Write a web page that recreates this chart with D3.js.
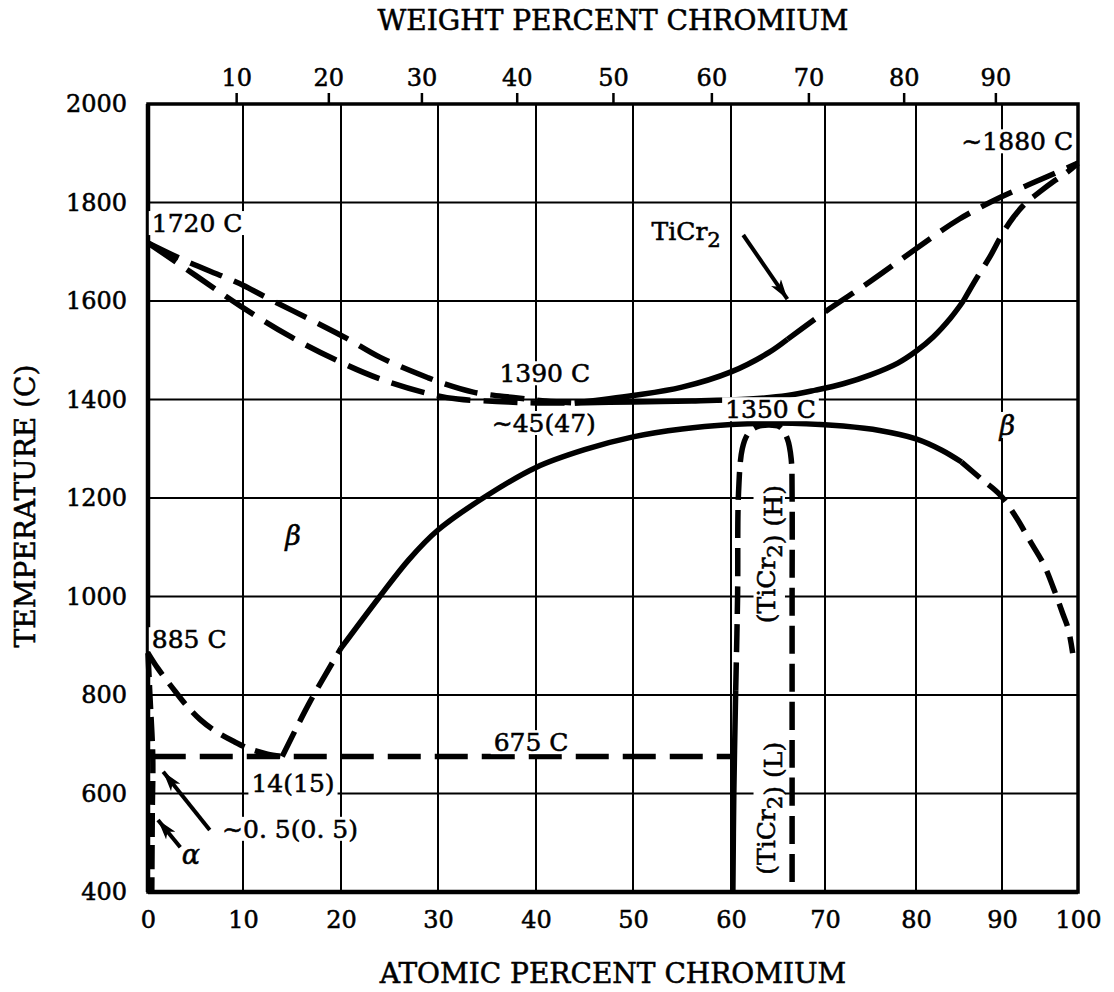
<!DOCTYPE html>
<html>
<head>
<meta charset="utf-8">
<script src="https://cdn.jsdelivr.net/npm/d3@7"></script>
<style>
  body { margin: 0; background: #fff; }
  svg text { font-family: "DejaVu Serif", serif; fill: #000; stroke: #000; stroke-width: 0.55px; }
</style>
</head>
<body>
<div id="chart"></div>
<script>
// axis ticks
const atomicTicks = [0, 10, 20, 30, 40, 50, 60, 70, 80, 90, 100];
const weightTicks = [10, 20, 30, 40, 50, 60, 70, 80, 90];
const tempTicks = [400, 600, 800, 1000, 1200, 1400, 1600, 1800, 2000];

// atomic masses for wt% -> at% conversion of the top axis
const massTi = 47.87;
const massCr = 52.00;

// phase boundaries, [atomic % Cr, temperature C]
const liquidusLeft = [[0, 1718], [4, 1681], [8, 1649], [10, 1632], [12.5, 1606], [17, 1561], [20.6, 1524],
  [24, 1486], [29, 1444], [30.5, 1433], [33.6, 1415], [37.7, 1404], [41, 1397], [44, 1393]];
const solidusLeft = [[0, 1718], [5, 1652], [9.7, 1590], [14.9, 1527], [19.5, 1480], [24, 1442],
  [29, 1412], [32, 1401], [36, 1396], [40, 1393], [44, 1393]];
const liquidusRightSolid = [[44, 1393], [50, 1408], [55, 1425], [60, 1456], [64, 1495], [66, 1522]];
const liquidusRightDash = [[66, 1522], [70, 1578], [75, 1640], [80, 1706], [85, 1766], [90, 1812],
  [95, 1846], [100, 1880]];
const solidusRightSolid = [[44, 1393], [50, 1395], [56, 1397], [62, 1401], [66, 1408], [69, 1419],
  [72, 1432], [75, 1450], [78, 1474], [80, 1498], [82, 1527], [84, 1565], [85.5, 1600]];
const solidusRightDash = [[85.5, 1600], [87, 1645], [88.6, 1690], [90, 1735], [91.5, 1770], [93, 1797],
  [95, 1822], [97, 1845], [98.6, 1862], [100, 1880]];
const betaTransus = [[0, 885], [1, 855], [2.6, 814], [4, 780], [5.5, 750], [7, 728], [9, 706],
  [10.5, 692], [12.5, 680], [14, 675]];
const betaSolvusDashLow = [[14, 675], [16.8, 785], [20, 895]];
const betaSolvusSolid = [[20, 895], [24, 1000], [27, 1075], [30, 1135], [35, 1205], [40, 1262],
  [45, 1298], [50, 1324], [55, 1340], [60, 1349], [64, 1352], [68, 1351], [72, 1346], [76, 1337],
  [80, 1320], [83, 1297], [85.3, 1273]];
const betaSolvusDashHigh = [[85.3, 1273], [87.5, 1240], [89.8, 1206], [91.9, 1160], [93.6, 1115],
  [95.5, 1065], [96.7, 1020], [98, 965], [98.7, 935], [99.3, 885]];
const ticr2Solid = [[60.2, 400], [60.3, 600], [60.5, 810]];
const ticr2Dash = [[60.5, 810], [60.7, 1000], [60.8, 1210], [61.2, 1300], [61.8, 1330], [62.7, 1344],
  [64, 1348], [65.2, 1344], [66.0, 1320], [66.4, 1280], [66.5, 1200], [66.5, 1000], [66.5, 700], [66.5, 400]];
const alphaBoundary = [[0, 885], [0.2, 800], [0.5, 675], [0.45, 560], [0.4, 400]];
const eutectoid = [[0.5, 675], [60.5, 675]];

// text labels: [text, at%, temp, anchor, rotated]
const labels = [
  ["1720 C", 0.4, 1740, "start", false],
  ["1390 C", 40.9, 1435, "middle", false],
  ["\u223C45(47)", 40.8, 1334, "middle", false],
  ["1350 C", 64.2, 1362, "middle", false],
  ["\u223C1880 C", 92.0, 1906, "middle", false],
  ["TiCr_2", 51.9, 1724, "start", false],
  ["\u03B2", 15.1, 1104, "middle", false],
  ["\u03B2", 90.7, 1328, "middle", false],
  ["885 C", 0.4, 895, "start", false],
  ["675 C", 39.5, 686, "middle", false],
  ["14(15)", 15.1, 603, "middle", false],
  ["\u223C0. 5(0. 5)", 14.8, 510, "middle", false],
  ["\u03B1", 4.5, 457, "middle", false],
  ["(TiCr_2) (H)", 63.7, 1086, "middle", true],
  ["(TiCr_2) (L)", 63.7, 570, "middle", true]
];

// arrows: [from at%, from temp, to at%, to temp]
const arrows = [
  [61.3, 1734, 66.0, 1604],
  [6.5, 526, 1.6, 644],
  [3.4, 491, 1.05, 546]
];

const W = 1114, H = 992;
const plotTop = 104, plotBottom = 892;
// measured grid positions of the atomic % lines (the original drawing is not quite even)
const gridX = [148, 243, 341, 438, 536, 633, 731, 825, 916, 1002, 1078];

const x = d3.scaleLinear().domain(atomicTicks).range(gridX);
const y = d3.scaleLinear().domain([400, 2000]).range([plotBottom, plotTop]);

function wtToAt(w) {
  const a = (w / massCr) / (w / massCr + (100 - w) / massTi);
  return a * 100;
}

const svg = d3.select("#chart").append("svg")
  .attr("width", W)
  .attr("height", H);

// grid
const grid = svg.append("g").attr("stroke", "#000").attr("stroke-width", 2);
grid.selectAll("line.v").data(atomicTicks).join("line")
  .attr("class", "v")
  .attr("x1", d => x(d)).attr("x2", d => x(d))
  .attr("y1", y(2000)).attr("y2", y(400));
grid.selectAll("line.h").data(tempTicks).join("line")
  .attr("class", "h")
  .attr("x1", x(0)).attr("x2", x(100))
  .attr("y1", d => y(d)).attr("y2", d => y(d));

// frame
svg.append("rect")
  .attr("x", x(0)).attr("y", y(2000))
  .attr("width", x(100) - x(0)).attr("height", y(400) - y(2000))
  .attr("fill", "none").attr("stroke", "#000").attr("stroke-width", 3.5);
svg.append("line")
  .attr("x1", x(0)).attr("x2", x(0)).attr("y1", y(2000)).attr("y2", y(400))
  .attr("stroke", "#000").attr("stroke-width", 4.5);
svg.append("line")
  .attr("x1", x(0)).attr("x2", x(100)).attr("y1", y(400)).attr("y2", y(400))
  .attr("stroke", "#000").attr("stroke-width", 4.5);

// axes
const yAxis = d3.axisLeft(y).tickValues(tempTicks).tickFormat(d3.format("d"))
  .tickSize(0).tickPadding(21);
const gy = svg.append("g").attr("transform", `translate(${x(0)},0)`).call(yAxis);

const xAxis = d3.axisBottom(x).tickValues(atomicTicks).tickFormat(d3.format("d"))
  .tickSize(0).tickPadding(19);
const gx = svg.append("g").attr("transform", `translate(0,${y(400)})`).call(xAxis);

const topAxis = d3.axisTop(x)
  .tickValues(weightTicks.map(wtToAt))
  .tickFormat((d, i) => weightTicks[i])
  .tickSize(11).tickPadding(7);
const gt = svg.append("g").attr("transform", `translate(0,${y(2000)})`).call(topAxis);

[gx, gy, gt].forEach(g => {
  g.select(".domain").remove();
  g.selectAll("text").attr("font-size", 24).attr("font-family", "DejaVu Serif")
    .attr("fill", "#000").attr("stroke", "#000").attr("stroke-width", 0.55);
  g.selectAll(".tick line").attr("stroke", "#000").attr("stroke-width", 2.5);
});

// axis titles
svg.append("text")
  .attr("x", (x(0) + x(100)) / 2).attr("y", 30)
  .attr("text-anchor", "middle").attr("font-size", 28)
  .text("WEIGHT PERCENT CHROMIUM");
svg.append("text")
  .attr("x", (x(0) + x(100)) / 2).attr("y", 983)
  .attr("text-anchor", "middle").attr("font-size", 28)
  .text("ATOMIC PERCENT CHROMIUM");
svg.append("text")
  .attr("transform", `translate(35,${(y(400) + y(2000)) / 2 + 8}) rotate(-90)`)
  .attr("text-anchor", "middle").attr("font-size", 28)
  .text("TEMPERATURE (C)");

// curves
const line = d3.line()
  .x(d => x(d[0]))
  .y(d => y(d[1]))
  .curve(d3.curveCatmullRom.alpha(0.5));

const curves = [
  [liquidusLeft, "34,13"],
  [solidusLeft, "34,13"],
  [liquidusRightSolid, null],
  [liquidusRightDash, "34,13"],
  [solidusRightSolid, null],
  [solidusRightDash, "30,12"],
  [betaTransus, "26,11"],
  [betaSolvusDashLow, "28,11"],
  [betaSolvusSolid, null],
  [betaSolvusDashHigh, "24,11"],
  [ticr2Solid, null],
  [ticr2Dash, "28,10"],
  [alphaBoundary, "24,8"],
  [eutectoid, "33,14"]
];

svg.append("g").selectAll("path").data(curves).join("path")
  .attr("d", d => line(d[0]))
  .attr("fill", "none")
  .attr("stroke", "#000")
  .attr("stroke-width", 5.5)
  .attr("stroke-dasharray", d => d[1]);

// labels with white boxes
function addLabel(parent, d) {
  const [txt, ax, at, anchor, rotated] = d;
  const fs = 25;
  const greek = /^[\u03B1\u03B2]$/.test(txt);
  const g = parent.append("g")
    .attr("transform", `translate(${x(ax)},${y(at)})` + (rotated ? " rotate(-90)" : ""));
  const t = g.append("text")
    .attr("text-anchor", anchor)
    .attr("font-size", greek ? 27 : fs)
    .attr("font-style", greek ? "italic" : null)
    .attr("dy", rotated ? "0.35em" : 0);
  const parts = txt.split(/_(\d)/);
  parts.forEach((p, i) => {
    if (p === "") return;
    if (i % 2 === 1) {
      t.append("tspan").attr("dy", "0.35em").attr("font-size", "0.85em").text(p);
      t.append("tspan").attr("dy", "-0.35em").text("");
    } else {
      t.append("tspan").text(p);
    }
  });
  const bb = t.node().getBBox();
  g.insert("rect", "text")
    .attr("x", bb.x - 3).attr("y", bb.y + 2)
    .attr("width", bb.width + 6).attr("height", bb.height - 0.2 * fs)
    .attr("fill", "#fff");
}
const lab = svg.append("g");
labels.forEach(d => addLabel(lab, d));

// arrows
svg.append("defs").append("marker")
  .attr("id", "head")
  .attr("viewBox", "0 0 20 12")
  .attr("refX", 20).attr("refY", 6)
  .attr("markerWidth", 20).attr("markerHeight", 12)
  .attr("markerUnits", "userSpaceOnUse")
  .attr("orient", "auto")
  .append("path")
  .attr("d", "M0,0 L20,6 L0,12 L5,6 Z")
  .attr("fill", "#000");

svg.append("g").selectAll("line").data(arrows).join("line")
  .attr("x1", d => x(d[0])).attr("y1", d => y(d[1]))
  .attr("x2", d => x(d[2])).attr("y2", d => y(d[3]))
  .attr("stroke", "#000").attr("stroke-width", 4)
  .attr("marker-end", "url(#head)");
</script>
</body>
</html>
